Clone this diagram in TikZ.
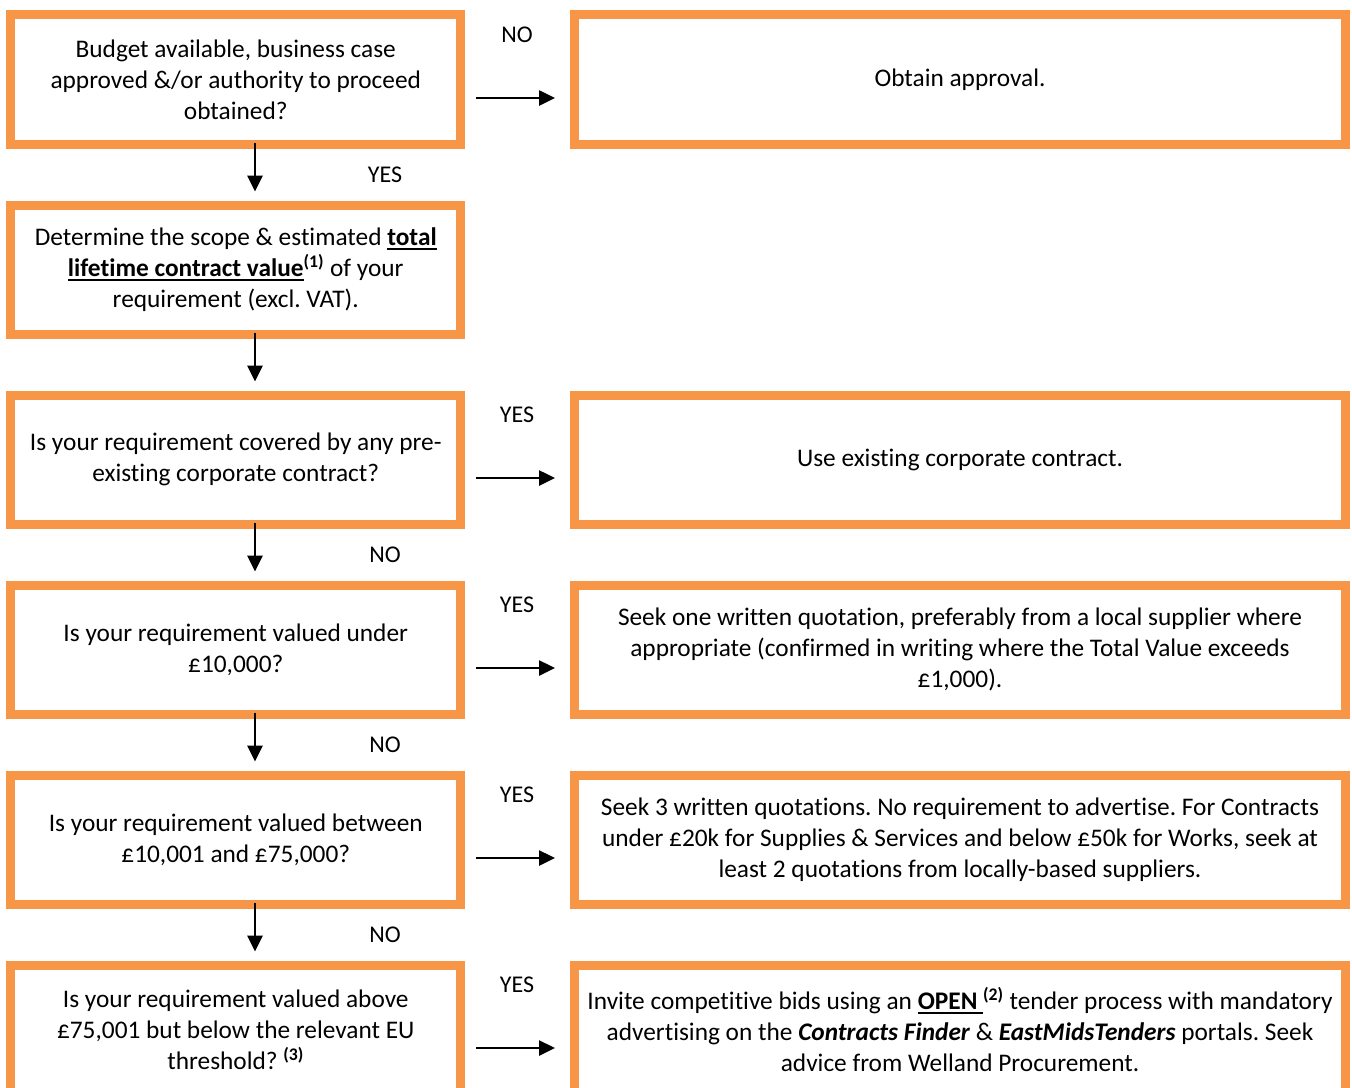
\documentclass[tikz,border=0pt]{standalone}
\usepackage{fontspec}
\setmainfont{Carlito}[Ligatures={NoCommon}]
\usetikzlibrary{arrows.meta}
\definecolor{boxorange}{HTML}{F79646}
\newcommand{\myul}[1]{\setbox0\hbox{#1}\rlap{\rule[-3.6pt]{\wd0}{1.4pt}}\box0}
\frenchspacing
\begin{document}
\begin{tikzpicture}[x=0.75pt,y=-0.75pt,
  qbox/.style={draw=boxorange, line width=6.75pt, fill=white, minimum width=337.5pt,
    minimum height=96.75pt, inner sep=0pt, outer sep=0pt, align=center,
    font=\fontsize{19}{23.25}\selectfont\frenchspacing},
  abox/.style={qbox, minimum width=578.25pt},
  lab/.style={font=\fontsize{18}{21}\selectfont, inner sep=0pt},
  arr/.style={line width=2pt, -{Triangle[length=12pt,width=11.25pt]}},
]
\fill[white] (0,0) rectangle (1352,1088);
\clip (0,0) rectangle (1352,1088);
\useasboundingbox (0,0) rectangle (1352,1088);

% question boxes
\node[qbox] (q1) at (235.75,79.5) {Budget available, business case\\approved \&/or authority to proceed\\obtained?};
\node[qbox] (q2) at (235.75,269.5) {Determine the scope \& estimated \myul{\textbf{total}}\\\myul{\textbf{lifetime contract value}}\textsuperscript{\textbf{(1)}} of your\\requirement (excl. VAT).};
\node[qbox] (q3) at (235.75,459.5) {Is your requirement covered by any pre-\\existing corporate contract?};
\node[qbox] (q4) at (235.75,649.5) {Is your requirement valued under\\£10,000?};
\node[qbox] (q5) at (235.75,839.5) {Is your requirement valued between\\£10,001 and £75,000?};
\node[qbox] (q6) at (235.75,1029.5) {Is your requirement valued above\\£75,001 but below the relevant EU\\threshold? \textsuperscript{\textbf{(3)}}};

% answer boxes
\node[abox] (a1) at (960,79.5) {Obtain approval.};
\node[abox] (a3) at (960,459.5) {Use existing corporate contract.};
\node[abox] (a4) at (960,649.5) {Seek one written quotation, preferably from a local supplier where\\appropriate (confirmed in writing where the Total Value exceeds\\£1,000).};
\node[abox] (a5) at (960,839.5) {Seek 3 written quotations. No requirement to advertise. For Contracts\\under £20k for Supplies \& Services and below £50k for Works, seek at\\least 2 quotations from locally-based suppliers.};
\node[abox] (a6) at (960,1029.5) {Invite competitive bids using an \myul{\textbf{OPEN} }\textsuperscript{\textbf{(2)}} tender process with mandatory\\advertising on the \textbf{\textit{Contracts Finder}} \& \textbf{\textit{EastMidsTenders}} portals. Seek\\advice from Welland Procurement.};

% labels
\node[lab] (n1) at (517,35) {NO};
\node[lab] (y3) at (517,415) {YES};
\node[lab] (y4) at (517,605) {YES};
\node[lab] (y5) at (517,795) {YES};
\node[lab] (y6) at (517,985) {YES};
\node[lab] (y1) at (385,175) {YES};
\node[lab] (n3) at (385,555) {NO};
\node[lab] (n4) at (385,745) {NO};
\node[lab] (n5) at (385,935) {NO};

% vertical arrows
\foreach \a/\b in {q1/q2,q2/q3,q3/q4,q4/q5,q5/q6}{
  \draw[arr] ([xshift=14.44pt,yshift=1pt]\a.south) -- ([xshift=14.44pt,yshift=10.1pt]\b.north);
}
% horizontal arrows
\foreach \a/\b in {q1/a1,q3/a3,q4/a4,q5/a5,q6/a6}{
  \draw[arr] ([xshift=11.6pt,yshift=-13.9pt]\a.east) -- ([xshift=-14.6pt,yshift=-13.9pt]\b.west);
}
\end{tikzpicture}
\end{document}
